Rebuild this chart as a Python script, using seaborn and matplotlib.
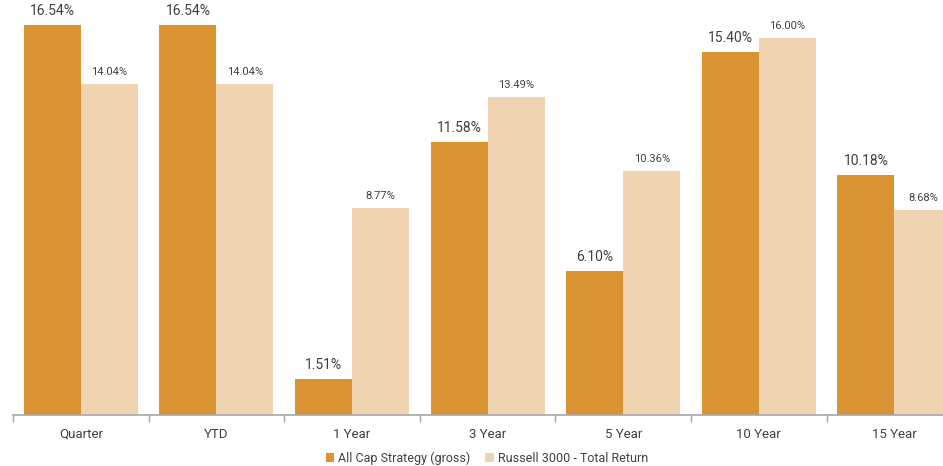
import numpy as np
import pandas as pd
import seaborn as sns
import matplotlib.pyplot as plt
from matplotlib.ticker import FixedLocator

periods = ['Quarter', 'YTD', '1 Year', '3 Year', '5 Year', '10 Year', '15 Year']
strategy = [16.54, 16.54, 1.51, 11.58, 6.10, 15.40, 10.18]
russell = [14.04, 14.04, 8.77, 13.49, 10.36, 16.00, 8.68]
series_names = ['All Cap Strategy (gross)', 'Russell 3000 - Total Return']
colors = ['#DA9332', '#F0D3B0']

df = pd.DataFrame({
    'period': periods * 2,
    'value': strategy + russell,
    'series': [series_names[0]] * len(periods) + [series_names[1]] * len(periods),
})

sns.set_style('white')
plt.rcParams['font.family'] = ['Roboto', 'DejaVu Sans']

fig = plt.figure(figsize=(9.43, 4.66), dpi=100)
ax = fig.add_axes([13 / 943, 51 / 466, 930 / 943, 415 / 466])

sns.barplot(data=df, x='period', y='value', hue='series', order=periods,
            hue_order=series_names, palette=colors, width=0.84, gap=0,
            saturation=1, linewidth=0, ax=ax)

# the last group runs off the right edge in the original
ax.set_ylim(0, 17.6)
ax.set_xlim(-0.5, 930 / 135.6 - 0.5)
ax.set_xlabel('')
ax.set_ylabel('')
ax.set_yticks([])
for side in ['top', 'right', 'left']:
    ax.spines[side].set_visible(False)
ax.spines['bottom'].set_color('#A6A6A6')
ax.spines['bottom'].set_linewidth(1.2)

ax.tick_params(axis='x', which='major', length=0, pad=9, labelsize=9.5, labelcolor='#404040')
ax.xaxis.set_minor_locator(FixedLocator(np.arange(-0.5, len(periods) - 0.5, 1.0)))
ax.tick_params(axis='x', which='minor', length=5, width=1, color='#A6A6A6', bottom=True)

sizes = [10, 8]
for cont, fs in zip(ax.containers, sizes):
    ax.bar_label(cont, labels=[f'{v:.2f}%' for v in cont.datavalues],
                 padding=5, fontsize=fs, color='#404040')

ax.legend(loc='center', bbox_to_anchor=((487 - 13) / 930, -43 / 415), ncol=2,
          frameon=False, fontsize=9, handlelength=0.7, handleheight=0.7,
          handletextpad=0.3, columnspacing=1.2, labelcolor='#404040')

fig.savefig('out.png', dpi=100)
